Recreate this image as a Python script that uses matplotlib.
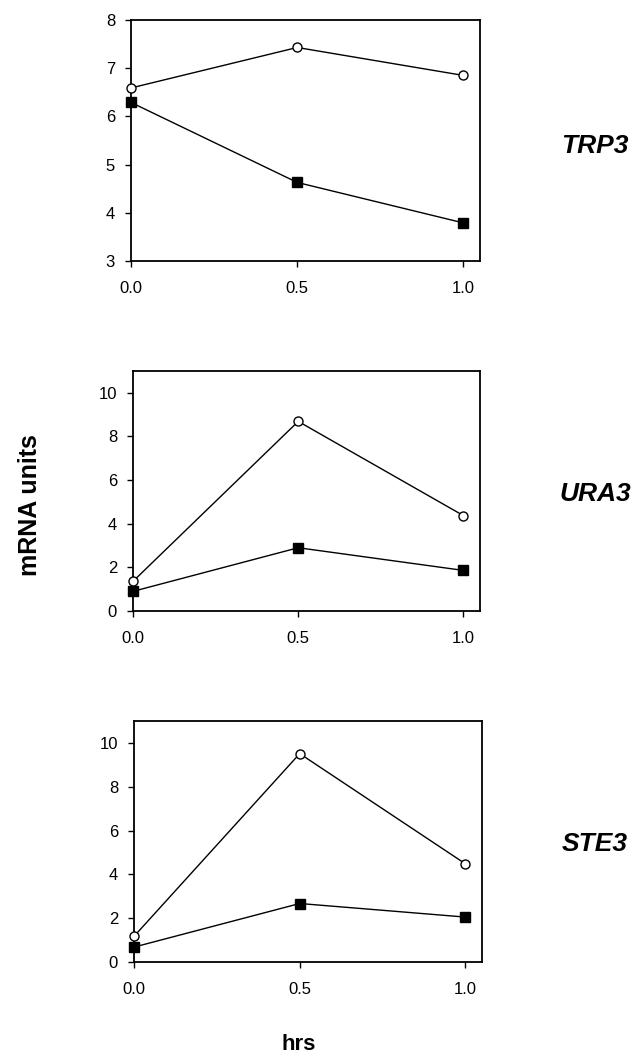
import matplotlib
matplotlib.use("Agg")
import matplotlib.pyplot as plt

plt.rcParams['font.family'] = ['Liberation Sans', 'DejaVu Sans']

hours = [0.0, 0.5, 1.0]
genes = ["TRP3", "URA3", "STE3"]
open_vals = [[6.59, 7.43, 6.85], [1.36, 8.69, 4.37], [1.17, 9.51, 4.48]]
filled_vals = [[6.29, 4.63, 3.79], [0.90, 2.90, 1.86], [0.68, 2.67, 2.05]]
ylims = [(3, 8), (0, 11), (0, 11)]
yticks = [[3, 4, 5, 6, 7, 8], [0, 2, 4, 6, 8, 10], [0, 2, 4, 6, 8, 10]]
xticks = [0.0, 0.5, 1.0]
xticklabels = ["0.0", "0.5", "1.0"]

W, H = 636, 1057
fig = plt.figure(figsize=(W/100, H/100), dpi=100)

# axes boxes in pixels: left, top, right, bottom
boxes = [(131, 20, 480, 261), (133, 371, 480, 611), (134, 721, 482, 962)]
label_y = [146, 494, 844]

for i in range(3):
    l, t, r, b = boxes[i]
    ax = fig.add_axes([l/W, 1 - b/H, (r-l)/W, (b-t)/H])
    ax.plot(hours, filled_vals[i], color='black', lw=1.0, marker='s', ms=6.5,
            mfc='black', mec='black', zorder=3, clip_on=False)
    ax.plot(hours, open_vals[i], color='black', lw=1.0, marker='o', ms=6.5,
            mfc='white', mec='black', mew=1.0, zorder=4, clip_on=False)
    ax.set_xlim(0, 1.05)
    ax.set_ylim(*ylims[i])
    ax.set_yticks(yticks[i])
    ax.set_xticks(xticks)
    ax.set_xticklabels(xticklabels)
    ax.tick_params(direction='out', length=4.5, width=1, labelsize=12,
                   top=False, right=False)
    ax.tick_params(axis='y', pad=7)
    ax.tick_params(axis='x', pad=10)
    for s in ax.spines.values():
        s.set_linewidth(1.3)
    fig.text(595/W, 1 - label_y[i]/H, genes[i], ha='center', va='center',
             fontsize=19, fontweight='bold', fontstyle='italic')

fig.text(30/W, 1 - 505/H, "mRNA units", rotation=90, ha='center', va='center',
         fontsize=18, fontweight='bold')
fig.text(299/W, 1 - 1045/H, "hrs", ha='center', va='center',
         fontsize=16, fontweight='bold')

fig.savefig("out.png", dpi=100, facecolor='white')
